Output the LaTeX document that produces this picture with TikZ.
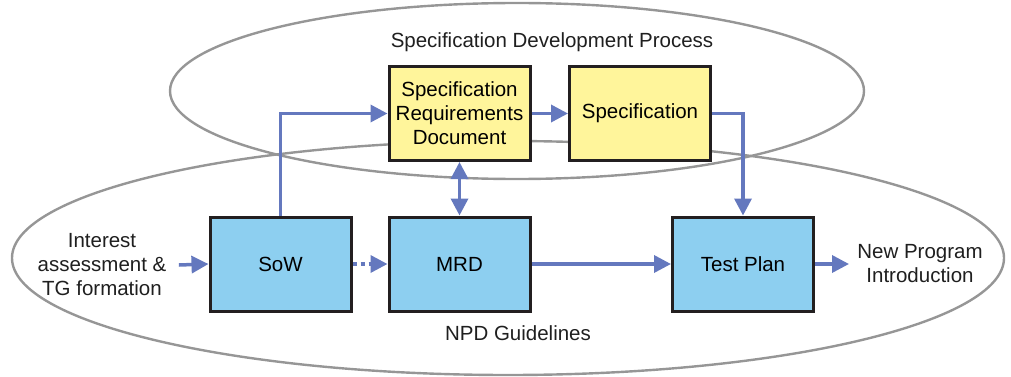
\documentclass[tikz,border=0pt]{standalone}
\usepackage{fontspec}
\setmainfont{Liberation Sans}
\usetikzlibrary{arrows.meta,positioning}
\definecolor{boxblue}{RGB}{141,207,240}
\definecolor{boxyellow}{RGB}{255,245,155}
\definecolor{flow}{RGB}{100,120,190}
\definecolor{ring}{RGB}{150,150,150}
\definecolor{edge}{RGB}{35,31,32}
\tikzset{
  stage/.style={draw=edge, line width=3pt, minimum width=141pt, minimum height=94pt,
    inner sep=0pt, align=center, font=\fontsize{20.5}{24}\selectfont},
  bluebox/.style={stage, fill=boxblue},
  yellowbox/.style={stage, fill=boxyellow},
  label/.style={align=center, font=\fontsize{20.5}{24}\selectfont, text=black!88},
  flowline/.style={draw=flow, line width=3.5pt, -{Triangle[length=17pt,width=17pt]}},
  twoway/.style={draw=flow, line width=3.5pt, {Triangle[length=17pt,width=17pt]}-{Triangle[length=17pt,width=17pt]}},
  zone/.style={draw=ring, line width=2.4pt},
}
\begin{document}
\begin{tikzpicture}[x=1pt,y=-1pt]
\useasboundingbox (0,0) rectangle (1011,377);
% process regions
\draw[zone] (517,91) ellipse [x radius=347, y radius=88];
\draw[zone] (508,258) ellipse [x radius=496, y radius=117];
\node[label] (sdp) at (552,42) {Specification Development Process};
\node[label] (npd) at (518,333) {NPD Guidelines};
% stages
\node[yellowbox] (srd) at (459.5,113.5) {Specification\\Requirements\\Document};
\node[yellowbox] (spec) at (640,113.5) {Specification};
\node[bluebox] (sow) at (280.5,264) {SoW};
\node[bluebox] (mrd) at (459.5,264) {MRD};
\node[bluebox] (test) at (743,264) {Test Plan};
\node[label] (interest) at (102,265) {Interest\\assessment \&\\TG formation};
\node[label] (npi) at (920,264) {New Program\\Introduction};
% flows
\draw[flowline] (interest.east) ++(9pt,0) coordinate (ie) -- (sow.west);
\draw[flowline, dash pattern=on 4pt off 4pt] (sow.east) -- (mrd.west);
\draw[flowline] (mrd.east) -- (test.west);
\draw[flowline] (test.east) -- ++(34pt,0) coordinate (ne);
\draw[flowline] (sow.north) |- (srd.west);
\draw[flowline] (srd.east) -- (spec.west);
\draw[flowline] (spec.east) -| (test.north);
\draw[twoway] (srd.south) -- (mrd.north);
\end{tikzpicture}
\end{document}
